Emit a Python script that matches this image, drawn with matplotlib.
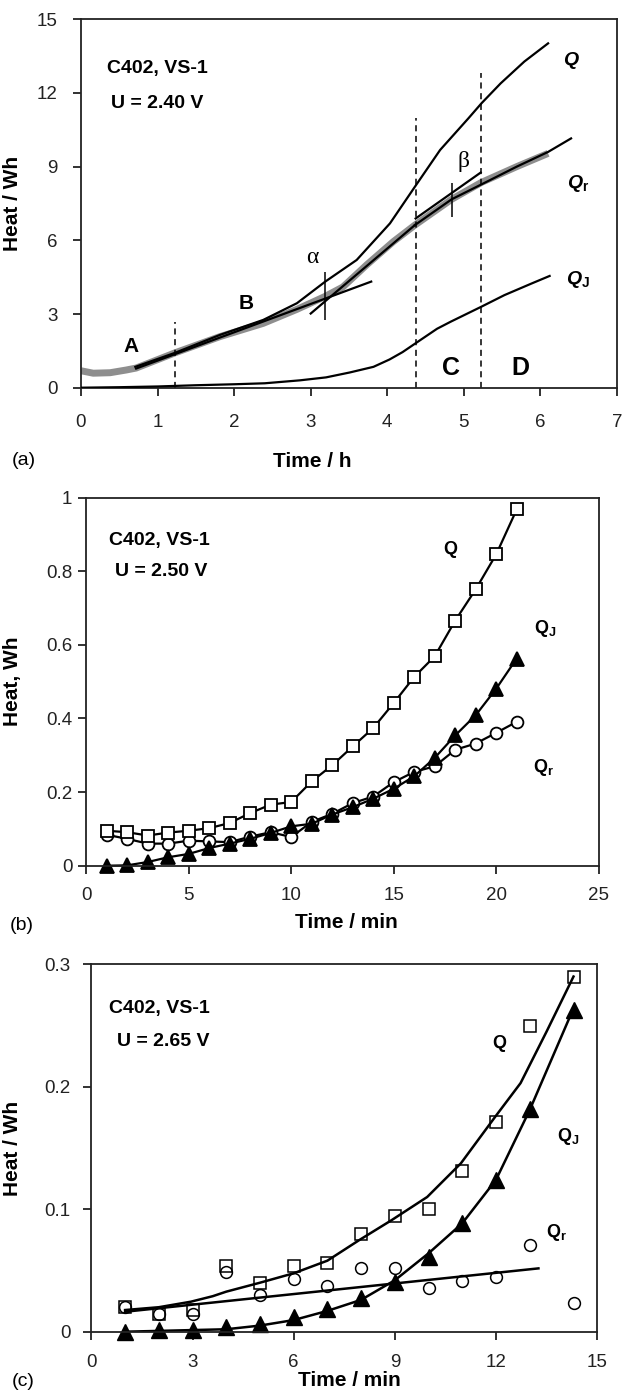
import matplotlib.pyplot as plt

plt.rcParams['font.family'] = ['Liberation Sans', 'DejaVu Sans']
plt.rcParams['mathtext.fontset'] = 'custom'
plt.rcParams['mathtext.rm'] = 'Liberation Sans'
plt.rcParams['mathtext.bf'] = 'Liberation Sans:bold'
plt.rcParams['mathtext.it'] = 'Liberation Sans:italic'
plt.rcParams['mathtext.bfit'] = 'Liberation Sans:italic:bold'
plt.rcParams['axes.edgecolor'] = '#222222'
plt.rcParams['xtick.color'] = '#222222'
plt.rcParams['ytick.color'] = '#222222'

# ---------- panel (a): U = 2.40 V, time in hours
a_q_t = [0.71, 1.228, 1.815, 2.38, 2.82, 3.19, 3.60, 4.035, 4.36, 4.69, 5.06, 5.23,
         5.48, 5.79, 6.10]
a_q = [0.85, 1.42, 2.15, 2.76, 3.44, 4.32, 5.20, 6.69, 8.18, 9.68, 10.97, 11.58,
       12.39, 13.28, 14.02]
a_qr_t = [0.0, 0.16, 0.38, 0.59, 0.72, 1.228, 1.815, 2.38, 2.82, 3.19, 3.42, 3.73,
          4.08, 4.36, 4.84, 5.23, 5.69, 6.10]
a_qr = [0.69, 0.59, 0.61, 0.72, 0.80, 1.42, 2.08, 2.62, 3.19, 3.72, 4.10, 5.00,
        5.95, 6.62, 7.67, 8.36, 9.00, 9.54]
a_qr_fit_t = [4.36, 4.84, 5.34, 5.69, 6.10, 6.40]
a_qr_fit = [6.62, 7.67, 8.45, 9.00, 9.60, 10.15]
a_qj_t = [0.0, 0.5, 1.0, 1.5, 2.0, 2.4, 2.86, 3.2, 3.51, 3.82, 4.03, 4.2, 4.37,
          4.65, 4.83, 5.23, 5.53, 5.89, 6.12]
a_qj = [0.0, 0.02, 0.05, 0.10, 0.14, 0.18, 0.30, 0.42, 0.62, 0.85, 1.15, 1.45, 1.81,
        2.40, 2.69, 3.30, 3.77, 4.25, 4.55]
# tangents, region boundaries and marks
tan_ab_t, tan_ab = [0.72, 3.79], [0.78, 4.32]
tan_alpha_t, tan_alpha = [3.0, 4.36], [3.02, 6.62]
tan_beta_t, tan_beta = [4.37, 5.22], [6.89, 8.76]
bound_t = [1.228, 4.37, 5.23]
bound_top = [2.69, 10.97, 12.8]
mark_t = [3.19, 4.84]
mark_lo = [2.76, 6.93]
mark_hi = [4.72, 8.32]

# ---------- panel (b): U = 2.50 V
b_t = list(range(1, 22))
b_q = [0.095, 0.091, 0.082, 0.090, 0.095, 0.102, 0.116, 0.143, 0.166, 0.173, 0.229,
       0.273, 0.324, 0.374, 0.442, 0.513, 0.569, 0.666, 0.751, 0.846, 0.968]
b_qr = [0.084, 0.073, 0.060, 0.060, 0.068, 0.066, 0.064, 0.079, 0.091, 0.078, 0.119,
        0.141, 0.170, 0.188, 0.227, 0.255, 0.270, 0.315, 0.332, 0.361, 0.391]
b_qj = [0.0, 0.001, 0.010, 0.023, 0.032, 0.048, 0.060, 0.073, 0.089, 0.107, 0.114,
        0.139, 0.159, 0.182, 0.209, 0.243, 0.293, 0.354, 0.409, 0.481, 0.563]

# ---------- panel (c): U = 2.65 V
c_t = [1, 2, 3, 4, 5, 6, 7, 8, 9, 10, 11, 12, 13, 14.3]
c_q = [0.0204, 0.0144, 0.0177, 0.0539, 0.0395, 0.0536, 0.0558, 0.0795, 0.0945,
       0.1005, 0.131, 0.171, 0.250, 0.290]
c_qr = [0.0199, 0.0144, 0.0144, 0.049, 0.030, 0.0427, 0.0376, 0.0517, 0.0517,
        0.036, 0.0414, 0.0449, 0.0708, 0.0237]
c_qj = [0.0, 0.001, 0.0014, 0.0035, 0.0063, 0.0117, 0.0182, 0.0272, 0.0408,
        0.0613, 0.0885, 0.124, 0.1816, 0.263]
c_q_fit_t = [1.0, 2.0, 2.95, 3.6, 4.0, 5.0, 6.0, 7.0, 7.95, 8.9, 9.96, 10.96, 11.98,
             12.73, 13.5, 14.3]
c_q_fit = [0.0177, 0.020, 0.0245, 0.029, 0.0327, 0.040, 0.0477, 0.058, 0.0749, 0.091,
           0.110, 0.1375, 0.1756, 0.203, 0.245, 0.290]
c_qj_fit_t = [1.0, 4.0, 5.0, 6.0, 7.0, 8.0, 9.0, 10.0, 11.0, 12.0, 13.0, 14.3]
c_qj_fit = [0.0, 0.002, 0.005, 0.0095, 0.017, 0.026, 0.042, 0.064, 0.0885, 0.124,
            0.181, 0.264]
c_qr_fit_t = [1.0, 13.26]
c_qr_fit = [0.0163, 0.0517]

fig = plt.figure(figsize=(6.23, 13.99), dpi=100)
H = 1399.0
W = 623.0


def add_panel(left, right, top, bottom):
    return fig.add_axes([left / W, 1 - bottom / H, (right - left) / W, (bottom - top) / H])


def style(ax, xpad, ypad):
    for s in ax.spines.values():
        s.set_linewidth(1.3)
    ax.tick_params(direction='out', length=6, width=1.3, labelsize=13.5)
    ax.tick_params(axis='x', pad=xpad)
    ax.tick_params(axis='y', pad=ypad)


bold = dict(fontweight='bold', fontsize=14)
lab = dict(ha='center', va='center', fontsize=14)

# ---------------- (a)
ax = add_panel(81, 617, 19.3, 387.7)
ax.plot(a_qr_t, a_qr, color='#8e8e8e', lw=5, solid_capstyle='butt', zorder=2)
for t, y in [(a_q_t, a_q), (a_qj_t, a_qj), (a_qr_fit_t, a_qr_fit), (tan_ab_t, tan_ab),
             (tan_alpha_t, tan_alpha), (tan_beta_t, tan_beta)]:
    ax.plot(t, y, color='black', lw=1.6, zorder=3)
ax.vlines(bound_t, 0, bound_top, colors='black', linestyles=(0, (4, 3)), lw=1.1)
ax.vlines(mark_t, mark_lo, mark_hi, colors='black', lw=1.1)
ax.set_xlim(0, 7)
ax.set_ylim(0, 15)
ax.set_xticks(range(0, 8))
ax.set_yticks(range(0, 16, 3))
style(ax, 13, 11)
ax.text(0.34, 13.0, 'C402, VS-1', va='center', **bold)
ax.text(0.39, 11.58, 'U = 2.40 V', va='center', **bold)
ax.text(0.65, 1.67, 'A', ha='center', va='center', fontweight='bold', fontsize=15)
ax.text(2.16, 3.43, 'B', ha='center', va='center', fontweight='bold', fontsize=15)
ax.text(4.83, 0.79, 'C', ha='center', va='center', fontweight='bold', fontsize=18)
ax.text(5.74, 0.79, 'D', ha='center', va='center', fontweight='bold', fontsize=18)
ax.text(3.02, 5.31, 'α', ha='center', va='center', fontsize=17, family='Liberation Serif')
ax.text(5.0, 9.2, 'β', ha='center', va='center', fontsize=17, family='Liberation Serif')
ax.text(6.41, 13.34, r'$\mathbfit{Q}$', **lab)
ax.text(6.49, 8.30, r'$\mathbfit{Q}_{\mathbf{r}}$', **lab)
ax.text(6.49, 4.40, r'$\mathbfit{Q}_{\mathbf{J}}$', **lab)
ax.set_ylabel('Heat / Wh', fontsize=15, fontweight='bold')
ax.yaxis.set_label_coords(-0.110, 0.5)
ax.set_xlabel('Time / h', fontsize=15, fontweight='bold', va='center')
ax.xaxis.set_label_coords(0.431, -(461 - 387.7) / 368.4)
fig.text(12 / W, 1 - 461 / H, '(a)', fontsize=14, va='center')

# ---------------- (b)
ax = add_panel(86.2, 598.7, 497.7, 865.7)
mk = dict(color='black', lw=1.6, mfc='white', mec='black', mew=1.3, clip_on=False)
ax.plot(b_t, b_qr, marker='o', ms=8.5, **mk)
ax.plot(b_t, b_qj, marker='^', ms=9.5, **{**mk, 'mfc': 'black'})
ax.plot(b_t, b_q, marker='s', ms=8.3, **mk)
ax.set_xlim(0, 25)
ax.set_ylim(0, 1)
ax.set_xticks(range(0, 26, 5))
ax.set_yticks([0, 0.2, 0.4, 0.6, 0.8, 1])
ax.set_yticklabels(['0', '0.2', '0.4', '0.6', '0.8', '1'])
style(ax, 9, 4)
ax.text(1.12, 0.885, 'C402, VS-1', va='center', **bold)
ax.text(1.41, 0.80, 'U = 2.50 V', va='center', **bold)
ax.text(17.8, 0.86, r'$\mathbf{Q}$', ha='center', va='center', fontsize=13)
ax.text(22.4, 0.645, r'$\mathbf{Q}_{\mathbf{J}}$', ha='center', va='center', fontsize=13)
ax.text(22.3, 0.268, r'$\mathbf{Q}_{\mathbf{r}}$', ha='center', va='center', fontsize=13)
ax.set_ylabel('Heat, Wh', fontsize=15, fontweight='bold')
ax.yaxis.set_label_coords((21.9 - 86.2) / 512.5, 0.5)
ax.set_xlabel('Time / min', fontsize=15, fontweight='bold', va='center')
ax.xaxis.set_label_coords(0.508, -(923 - 865.7) / 368.0)
fig.text(10 / W, 1 - 926 / H, '(b)', fontsize=14, va='center')

# ---------------- (c)
ax = add_panel(91.4, 597.1, 964.3, 1331.7)
ax.plot(c_q_fit_t, c_q_fit, color='black', lw=1.8)
ax.plot(c_qj_fit_t, c_qj_fit, color='black', lw=1.8)
ax.plot(c_qr_fit_t, c_qr_fit, color='black', lw=1.8)
ax.plot(c_t, c_q, ls='none', marker='s', ms=8.5, mfc='none', mec='black', mew=1.1,
        clip_on=False)
ax.plot(c_t, c_qr, ls='none', marker='o', ms=8.5, mfc='none', mec='black', mew=1.1,
        clip_on=False)
ax.plot(c_t, c_qj, ls='none', marker='^', ms=12, mfc='black', mec='black', clip_on=False)
ax.set_xlim(0, 15)
ax.set_ylim(0, 0.3)
ax.set_xticks(range(0, 16, 3))
ax.set_yticks([0, 0.1, 0.2, 0.3])
ax.set_yticklabels(['0', '0.1', '0.2', '0.3'])
style(ax, 10, 9)
ax.text(0.53, 0.264, 'C402, VS-1', va='center', **bold)
ax.text(0.77, 0.237, 'U = 2.65 V', va='center', **bold)
ax.text(12.1, 0.235, r'$\mathbf{Q}$', ha='center', va='center', fontsize=13)
ax.text(14.14, 0.159, r'$\mathbf{Q}_{\mathbf{J}}$', ha='center', va='center', fontsize=13)
ax.text(13.79, 0.081, r'$\mathbf{Q}_{\mathbf{r}}$', ha='center', va='center', fontsize=13)
ax.set_ylabel('Heat / Wh', fontsize=15, fontweight='bold')
ax.yaxis.set_label_coords((21.9 - 91.4) / 505.7, 0.5)
ax.set_xlabel('Time / min', fontsize=15, fontweight='bold', va='center')
ax.xaxis.set_label_coords(0.511, -(1380 - 1331.7) / 367.4)
fig.text(12 / W, 1 - 1381 / H, '(c)', fontsize=14, va='center')

fig.savefig('out.png', dpi=100)
